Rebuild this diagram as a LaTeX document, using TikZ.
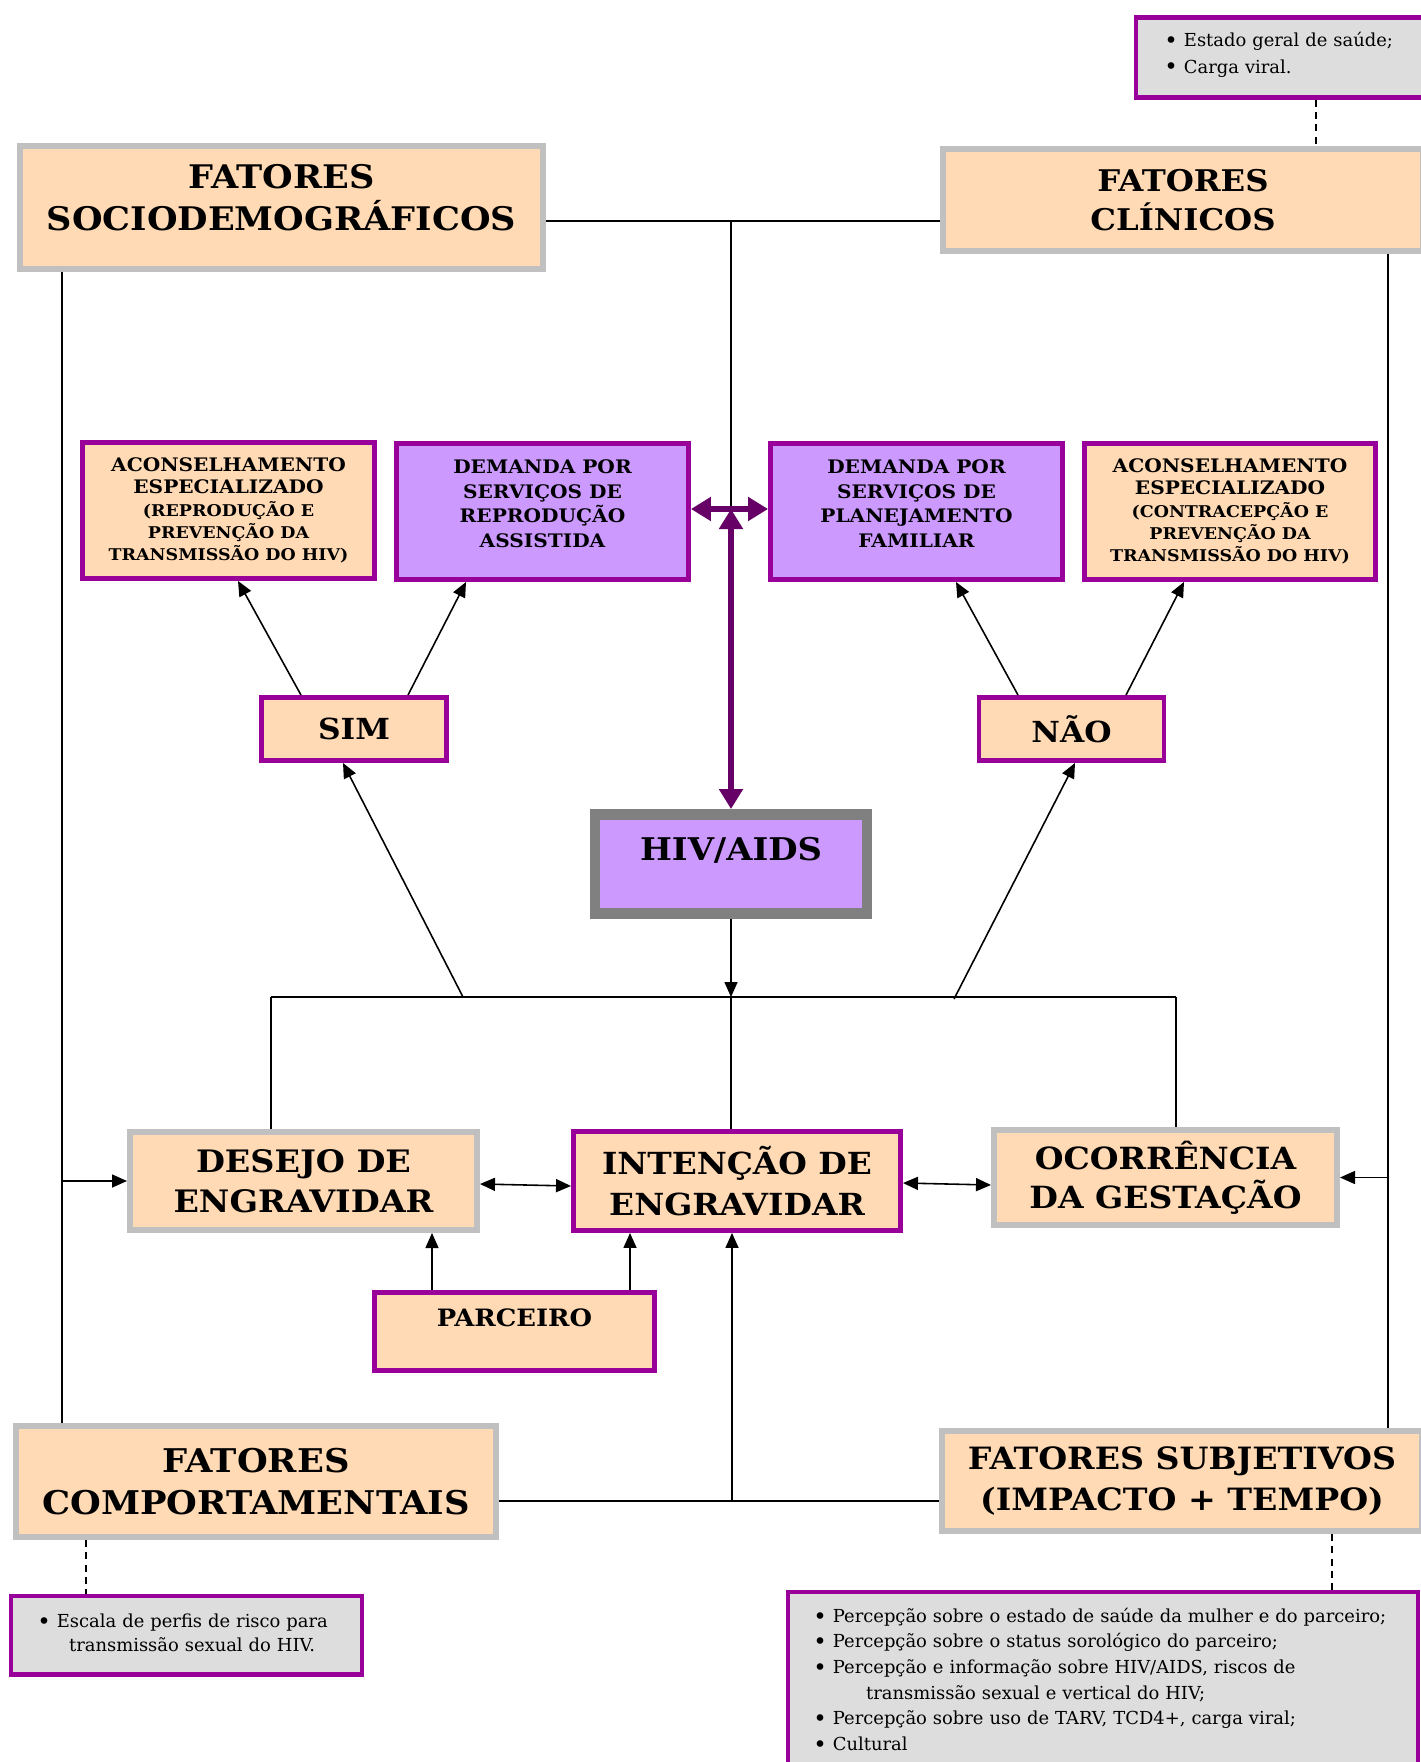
\documentclass[tikz,border=0pt]{standalone}
\usepackage{fontspec}
\setmainfont{DejaVu Serif}
\newfontfamily\hvhead[FakeStretch=1.08]{DejaVu Serif}
\newcommand{\hvfont}[2]{\hvhead\bfseries\fontsize{#1}{#2}\selectfont}
\newcommand{\hvnotefont}[2]{\fontsize{#1}{#2}\selectfont}
\newcommand{\hvbul}{\raisebox{-1pt}{\fontsize{13}{15}\selectfont\textbullet}\ }
\definecolor{hvpeach}{HTML}{FFDAB4}
\definecolor{hvlilac}{HTML}{CC99FF}
\definecolor{hvpurple}{HTML}{990099}
\definecolor{hvgray}{HTML}{C0C0C0}
\definecolor{hvframe}{HTML}{808080}
\definecolor{hvdark}{HTML}{660066}
\definecolor{hvnote}{HTML}{DDDDDD}
\usepackage{tikz}
\usetikzlibrary{arrows.meta,positioning,calc}

\begin{document}
\begin{tikzpicture}[
  x=0.2mm, y=-0.2mm,
  factor/.style={draw=hvgray, line width=3.4pt, fill=hvpeach, align=center,
    inner sep=0pt, font=\hvfont{18.5}{23.8}},
  choice/.style={draw=hvpurple, line width=2.8pt, fill=hvpeach, align=center,
    inner sep=0pt},
  demand/.style={choice, fill=hvlilac},
  note/.style={draw=hvpurple, line width=2.8pt, fill=hvnote, align=left,
    anchor=north west},
  link/.style={line width=0.9pt},
  linkarr/.style={link, -{Triangle[length=3mm,width=2.6mm]}},
  linkdbl/.style={link, {Triangle[length=3mm,width=2.6mm]}-{Triangle[length=3mm,width=2.6mm]}},
  dashlink/.style={line width=1.1pt, dash pattern=on 4pt off 3pt},
  hivarr/.style={hvdark, line width=3pt,
    {Triangle[length=4mm,width=4.6mm]}-{Triangle[length=4mm,width=4.6mm]}}
]
  \useasboundingbox (0,0) rectangle (1421,1762);
  \clip (0,0) rectangle (1421,1762);

  % Factor boxes
  \node[factor, minimum width=10.46cm, minimum height=2.46cm, text depth=11pt]
    (socio) at (281.5,207.5) {FATORES\\SOCIODEMOGRÁFICOS};
  \node[factor, minimum width=9.6cm, minimum height=2.04cm, font=\hvfont{17}{22.3}]
    (clin) at (1183,200) {FATORES\\CLÍNICOS};
  \node[factor, minimum width=9.6cm, minimum height=2.22cm, font=\hvfont{18.6}{23.6}]
    (comport) at (256,1481.5) {FATORES\\COMPORTAMENTAIS};
  \node[factor, minimum width=9.6cm, minimum height=2cm, font=\hvfont{17.5}{22.9}]
    (subj) at (1182,1481) {FATORES SUBJETIVOS\\(IMPACTO + TEMPO)};

  % Notes
  \node[note, minimum width=6.18cm, inner xsep=0.57cm, inner ysep=0.29cm,
    text width=5.04cm, text depth=0.72cm, font=\hvnotefont{10.2}{15}]
    (topnote) at (1133.5,15.5)
    {\hvbul Estado geral de saúde;\\ \hvbul Carga viral.};
  \node[note, minimum width=7.02cm, inner xsep=0.53cm, inner ysep=0.36cm,
    text width=5.96cm, text depth=0.58cm, font=\hvnotefont{10.2}{13.4}]
    (leftnote) at (8.5,1593.5)
    {\hvbul Escala de perfis de risco para\\
     \hspace*{18pt}transmissão sexual do HIV.};
  \node[note, minimum width=12.6cm, inner xsep=0.51cm, inner ysep=0.32cm,
    text width=11.58cm, text depth=4cm, font=\hvnotefont{10.2}{14.6}]
    (rightnote) at (785.5,1589.5)
    {\hvbul Percepção sobre o estado de saúde da mulher e do parceiro;\\
     \hvbul Percepção sobre o status sorológico do parceiro;\\
     \hvbul Percepção e informação sobre HIV/AIDS, riscos de\\
     \hspace*{30pt}transmissão sexual e vertical do HIV;\\
     \hvbul Percepção sobre uso de TARV, TCD4+, carga viral;\\
     \hvbul Cultural};

  % Counselling and demand boxes
  \node[choice, minimum width=5.84cm, minimum height=2.72cm, font=\hvfont{10.6}{12.7}]
    (acon1) at (228.5,510.5)
    {ACONSELHAMENTO\\ESPECIALIZADO\\{\hvfont{9.2}{12.7}(REPRODUÇÃO E}\\
     {\hvfont{9.2}{12.7}PREVENÇÃO DA}\\{\hvfont{9.2}{12.7}TRANSMISSÃO DO HIV)}};
  \node[demand, minimum width=5.84cm, minimum height=2.72cm, text depth=9pt,
    font=\hvfont{10.6}{14}]
    (dem1) at (542.5,511.5) {DEMANDA POR\\SERVIÇOS DE\\REPRODUÇÃO\\ASSISTIDA};
  \node[demand, minimum width=5.84cm, minimum height=2.72cm, text depth=9pt,
    font=\hvfont{10.6}{14}]
    (dem2) at (916.5,511.5) {DEMANDA POR\\SERVIÇOS DE\\PLANEJAMENTO\\FAMILIAR};
  \node[choice, minimum width=5.82cm, minimum height=2.72cm, font=\hvfont{10.6}{12.7}]
    (acon2) at (1230,511.5)
    {ACONSELHAMENTO\\ESPECIALIZADO\\{\hvfont{9.2}{12.7}(CONTRACEPÇÃO E}\\
     {\hvfont{9.2}{12.7}PREVENÇÃO DA}\\{\hvfont{9.2}{12.7}TRANSMISSÃO DO HIV)}};

  % Answers
  \node[choice, minimum width=3.7cm, minimum height=1.26cm, font=\hvfont{16.5}{20}]
    (sim) at (354,729) {SIM};
  \node[choice, minimum width=3.7cm, minimum height=1.26cm, font=\hvfont{16.5}{20}]
    (nao) at (1071.5,729) {NÃO};

  % HIV/AIDS
  \node[draw=hvframe, line width=6.2pt, fill=hvlilac, inner sep=0pt,
    minimum width=5.44cm, minimum height=1.98cm, text depth=17pt,
    font=\hvfont{17.8}{22}]
    (hiv) at (731,864) {HIV/AIDS};

  % Pregnancy boxes
  \node[factor, minimum width=6.94cm, minimum height=1.96cm, font=\hvfont{17.6}{22.9}]
    (desejo) at (303.5,1181) {DESEJO DE\\ENGRAVIDAR};
  \node[choice, minimum width=6.54cm, minimum height=1.98cm, font=\hvfont{17.3}{22.9}]
    (intencao) at (737,1181) {INTENÇÃO DE\\ENGRAVIDAR};
  \node[factor, minimum width=6.86cm, minimum height=1.9cm, font=\hvfont{17.4}{22.3}]
    (ocorr) at (1165.5,1177.5) {OCORRÊNCIA\\DA GESTAÇÃO};
  \node[choice, minimum width=5.6cm, minimum height=1.56cm, text depth=16pt,
    font=\hvfont{13.6}{16}]
    (parceiro) at (514.5,1331.5) {PARCEIRO};

  % Hubs
  \coordinate (tophub) at (731,221);
  \coordinate (purplehub) at (731,509);
  \coordinate (lefthub) at (271,997);
  \coordinate (midhub) at (731,997);
  \coordinate (righthub) at (1176,997);
  \coordinate (simfoot) at (463,997);
  \coordinate (naofoot) at (954,999);
  \coordinate (bothub) at (732,1501);
  \coordinate (ltrunk) at (62,0);
  \coordinate (rtrunk) at (1388,0);
  \coordinate (cdash) at (1316,0);
  \coordinate (ldash) at (86,0);
  \coordinate (rdash) at (1332,0);

  % Top connectors
  \draw[link] (socio.east |- tophub) -- (clin.west |- tophub);
  \draw[link] (tophub) -- (purplehub);
  \draw[hivarr] (dem1.east |- purplehub) -- (dem2.west |- purplehub);
  \draw[hivarr] (purplehub) -- (hiv.north);

  % Answers to services
  \draw[linkarr] ($(sim.north)+(-53,0)$) -- ($(acon1.south)+(9.5,0)$);
  \draw[linkarr] ($(sim.north)+(54,0)$) -- ($(dem1.south)+(-76.5,0)$);
  \draw[linkarr] ($(nao.north)+(-53.5,0)$) -- ($(dem2.south)+(39.5,0)$);
  \draw[linkarr] ($(nao.north)+(54.5,0)$) -- ($(acon2.south)+(-46,0)$);

  % Middle bar
  \draw[linkarr] (hiv.south) -- (midhub);
  \draw[link, line width=1.6pt] (lefthub) -- (righthub);
  \draw[link] (lefthub) -- (lefthub |- desejo.north);
  \draw[link] (midhub) -- (midhub |- intencao.north);
  \draw[link] (righthub) -- (righthub |- ocorr.north);
  \draw[linkarr] (simfoot) -- ($(sim.south)+(-11,0)$);
  \draw[linkarr] (naofoot) -- ($(nao.south)+(3.5,0)$);

  % Pregnancy row
  \draw[linkdbl] ($(desejo.east)+(0,3)$) -- ($(intencao.west)+(0,5)$);
  \draw[linkdbl] ($(intencao.east)+(0,2)$) -- ($(ocorr.west)+(0,7.5)$);
  \draw[linkarr] ($(parceiro.north)+(-82.5,0)$) -- ($(desejo.south)+(128.5,0)$);
  \draw[linkarr] ($(parceiro.north)+(115.5,0)$) -- ($(intencao.south)+(-107,0)$);

  % Side trunks
  \draw[link] (socio.south -| ltrunk) -- (comport.north -| ltrunk);
  \draw[linkarr] (desejo.west -| ltrunk) -- (desejo.west);
  \draw[link] (clin.south -| rtrunk) -- (subj.north -| rtrunk);
  \draw[linkarr] (ocorr.east -| rtrunk) -- (ocorr.east);

  % Bottom
  \draw[link] (comport.east |- bothub) -- (subj.west |- bothub);
  \draw[linkarr] (bothub) -- (bothub |- intencao.south);

  % Dashed leaders to notes
  \draw[dashlink] (topnote.south -| cdash) -- (clin.north -| cdash);
  \draw[dashlink] (comport.south -| ldash) -- (leftnote.north -| ldash);
  \draw[dashlink] (subj.south -| rdash) -- (rightnote.north -| rdash);
\end{tikzpicture}
\end{document}
